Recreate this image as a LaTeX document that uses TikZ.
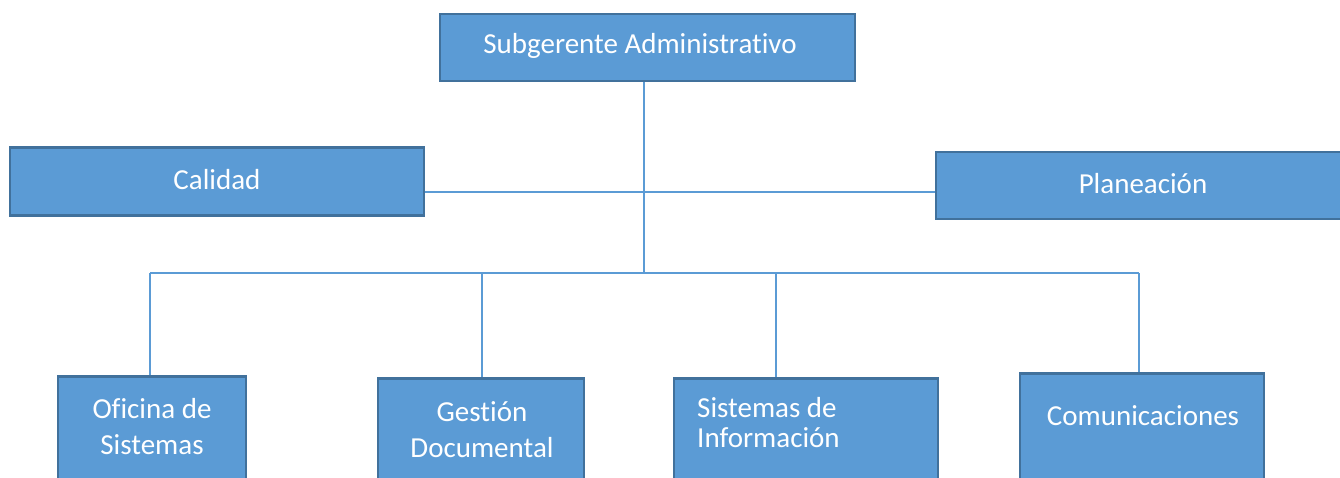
\documentclass[tikz,border=0pt]{standalone}
\usepackage{fontspec}
\setmainfont[Ligatures=NoCommon]{Carlito}
\definecolor{boxfill}{HTML}{5B9BD5}
\definecolor{boxline}{HTML}{41719C}
\definecolor{linkcol}{HTML}{5B9BD5}
\begin{document}
\begin{tikzpicture}[x=1pt,y=-1pt,
  box/.style={draw=boxline, fill=boxfill, line width=2.5pt, inner sep=0pt},
  txt/.style={text=white, font=\fontsize{29}{36}\selectfont, inner sep=0pt},
  link/.style={draw=linkcol, line width=1.3pt}]
\useasboundingbox (0,0) rectangle (1340,477);
\clip (0,0) rectangle (1340,477);
% boxes
\node[box, minimum width=415, minimum height=67] (top) at (647.5,47.5) {};
\node[txt] (toptxt) at (640,46) {Subgerente Administrativo};
\node[box, minimum width=414, minimum height=68] (cal) at (217,181.5) {};
\node[txt] (caltxt) at (217,180) {Calidad};
\node[box, minimum width=414, minimum height=67] (pla) at (1143,185.5) {};
\node[txt] (platxt) at (1143,184) {Planeación};
\node[box, anchor=north, minimum width=188, minimum height=130] (ofi) at (152,375) {};
\node[txt, align=center] (ofitxt) at (152,427) {Oficina de\\Sistemas};
\node[box, anchor=north, minimum width=206, minimum height=130] (ges) at (481,377) {};
\node[txt, align=center] (gestxt) at (482,429.5) {Gestión\\Documental};
\node[box, anchor=north, minimum width=264, minimum height=130] (sis) at (806,377) {};
\node[txt, align=left, anchor=west, font=\fontsize{29}{30}\selectfont] (sistxt) at (697,422.5) {Sistemas de\\Información};
\node[box, anchor=north, minimum width=244, minimum height=130] (com) at (1142,372) {};
\node[txt] (comtxt) at (1143,416) {Comunicaciones};
% connectors
\coordinate (mid) at (644,192);
\coordinate (hub) at (644,273);
\coordinate (d1) at (150,273);
\coordinate (d2) at (482,273);
\coordinate (d3) at (776,273);
\coordinate (d4) at (1139,273);
\draw[link] (hub |- top.south) -- (hub);
\draw[link] (mid -| cal.east) -- (mid -| pla.west);
\draw[link] (d1) -- (d4);
\draw[link] (d1) -- (d1 |- ofi.north);
\draw[link] (d2) -- (d2 |- ges.north);
\draw[link] (d3) -- (d3 |- sis.north);
\draw[link] (d4) -- (d4 |- com.north);
\end{tikzpicture}
\end{document}
